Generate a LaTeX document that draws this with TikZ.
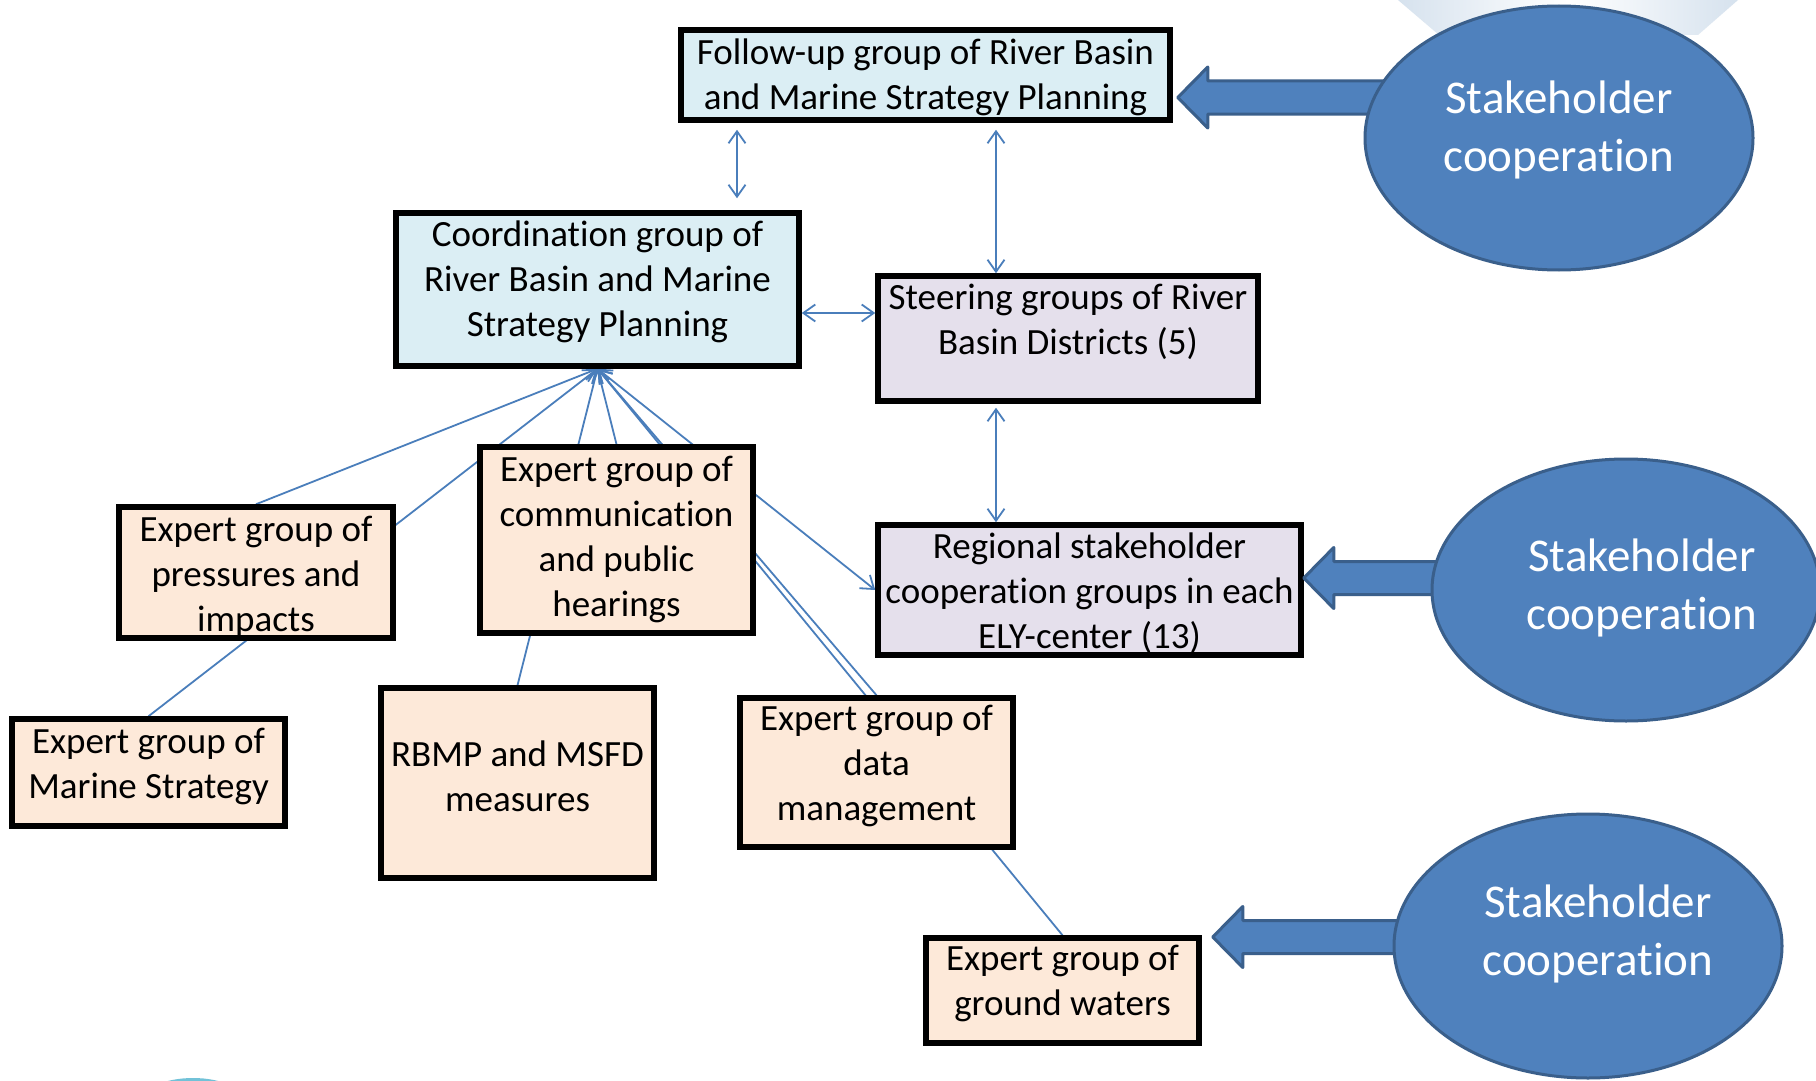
\documentclass[tikz,border=0pt]{standalone}
\usepackage{fontspec}
\setmainfont[Ligatures=NoCommon]{Carlito}
\usetikzlibrary{arrows.meta,calc,shadows,shapes.geometric}
\pgfdeclarelayer{bg}
\pgfsetlayers{bg,main}
\definecolor{boxblue}{HTML}{DBEEF4}
\definecolor{boxlav}{HTML}{E5E0EC}
\definecolor{boxpeach}{HTML}{FDE9D9}
\definecolor{ellfill}{HTML}{4F81BD}
\definecolor{elldraw}{HTML}{3A5F8B}
\definecolor{linkc}{HTML}{4A7EBB}
\definecolor{fadeblue}{HTML}{D6E2EE}
\definecolor{cyanspot}{HTML}{72C2D8}
\tikzset{
  box/.style={draw=black, line width=5.5pt, inner sep=0pt,
    drop shadow={shadow xshift=3pt, shadow yshift=-3pt, opacity=.3, fill=black}},
  txt/.style={font=\fontsize{37}{45}\selectfont, align=center, inner sep=0pt},
  ell/.style={ellipse, draw=elldraw, line width=3pt, fill=ellfill, inner sep=0pt},
  etxt/.style={font=\fontsize{47}{58}\selectfont, text=white, align=center, inner sep=0pt},
  link/.style={draw=linkc, line width=1.8pt},
  blk/.style={draw=elldraw, fill=ellfill, line width=3pt, line join=round},
}
\newcommand\blkarrow[2]{%
  \draw[blk] let \p1=(#1), \p2=(#2) in
   (\p1) -- (\x1+30pt,\y1+30.5pt) -- (\x1+30pt,\y1+16.5pt) -- (\x2,\y1+16.5pt)
   -- (\x2,\y1-16.5pt) -- (\x1+30pt,\y1-16.5pt) -- (\x1+30pt,\y1-30.5pt) -- cycle;}
\begin{document}
\begin{tikzpicture}[x=1pt,y=-1pt,>={Straight Barb[length=12pt,width=17pt]}]
\useasboundingbox (0,0) rectangle (1816,1081);
\clip (0,0) rectangle (1816,1081);
\begin{pgfonlayer}{bg}
\fill[white] (0,0) rectangle (1816,1081);
\end{pgfonlayer}
% faint background decorations
\shade[left color=fadeblue, right color=fadeblue, middle color=white]
  (1398,0) -- (1738,0) -- (1698,35) -- (1439,35) -- cycle;
\fill[cyanspot] (193,1102) ellipse [x radius=52pt, y radius=24pt];

% boxes
\node[box, fill=boxblue, minimum width=489, minimum height=90] (fu) at (925.5,75) {};
\node[box, fill=boxblue, minimum width=403, minimum height=153] (coord) at (597.5,289.5) {};
\node[box, fill=boxlav, minimum width=380, minimum height=125] (steer) at (1068,338.5) {};
\node[box, fill=boxlav, minimum width=423, minimum height=130] (reg) at (1089.5,590) {};
\node[box, fill=boxpeach, minimum width=273, minimum height=186] (comm) at (616.5,540) {};
\node[box, fill=boxpeach, minimum width=274, minimum height=131] (pres) at (256,572.5) {};
\node[box, fill=boxpeach, minimum width=273, minimum height=107] (mar) at (148.5,772.5) {};
\node[box, fill=boxpeach, minimum width=273, minimum height=190] (rbmp) at (517.5,783) {};
\node[box, fill=boxpeach, minimum width=273, minimum height=149] (data) at (876.5,772.5) {};
\node[box, fill=boxpeach, minimum width=273, minimum height=105] (gw) at (1062.5,990.5) {};

% box texts
\node[txt] (fut) at (925.5,77) {Follow-up group of River Basin\\and Marine Strategy Planning};
\node[txt] (coordt) at (597.5,282) {Coordination group of\\River Basin and Marine\\Strategy Planning};
\node[txt] (steert) at (1068,322) {Steering groups of River\\Basin Districts (5)};
\node[txt] (regt) at (1089.5,593) {Regional stakeholder\\cooperation groups in each\\ELY-center (13)};
\node[txt] (commt) at (616.5,539) {Expert group of\\communication\\and public\\hearings};
\node[txt] (prest) at (256,577) {Expert group of\\pressures and\\impacts};
\node[txt] (mart) at (148.5,766) {Expert group of\\Marine Strategy};
\node[txt] (rbmpt) at (517.5,776) {RBMP and MSFD\\measures};
\node[txt] (datat) at (876.5,766) {Expert group of\\data\\management};
\node[txt] (gwt) at (1062.5,983) {Expert group of\\ground waters};

% hub on the coordination box
\coordinate (hub) at (coord.south);

% connectors behind the boxes
\begin{pgfonlayer}{bg}
\draw[link,->] (pres.north) -- (hub);
\draw[link,->] (mar.north) -- (hub);
\draw[link,->] (rbmp.north) -- (hub);
\draw[link,->] (comm.north) -- (hub);
\draw[link,->] (data.north) -- (hub);
\draw[link,->] (gw.north) -- (hub);
\draw[link,<->] (hub) -- (reg.west);
\end{pgfonlayer}

% double arrows between groups
\draw[link,<->,shorten <=7pt,shorten >=12pt] (737,0 |- fu.south) -- (737,0 |- coord.north);
\draw[link,<->,shorten <=7pt] (996,0 |- fu.south) -- (996,0 |- steer.north);
\draw[link,<->] (coord.east |- 0,313) -- (steer.west |- 0,313);
\draw[link,<->,shorten <=4pt] (996,0 |- steer.south) -- (996,0 |- reg.north);

% stakeholder ellipses and block arrows
\coordinate (a1tip) at ($(fu.east)+(5,22.5)$);
\coordinate (a2tip) at ($(reg.east)+(0,-12)$);
\coordinate (a3tip) at ($(gw.east)+(11,-53.5)$);
\coordinate (a1end) at (1392,0);
\coordinate (a2end) at (1457,0);
\coordinate (a3end) at (1417,0);
\blkarrow{a1tip}{a1end}
\blkarrow{a2tip}{a2end}
\blkarrow{a3tip}{a3end}
\node[ell, minimum width=388, minimum height=264] (e1) at (1559,138) {};
\node[ell, minimum width=388, minimum height=262] (e2) at (1626,590) {};
\node[ell, minimum width=388, minimum height=264] (e3) at (1588,946) {};
\node[etxt] (e1t) at (1559,129.5) {Stakeholder\\cooperation};
\node[etxt] (e2t) at (1642,588) {Stakeholder\\cooperation};
\node[etxt] (e3t) at (1598,933.5) {Stakeholder\\cooperation};
\end{tikzpicture}
\end{document}
